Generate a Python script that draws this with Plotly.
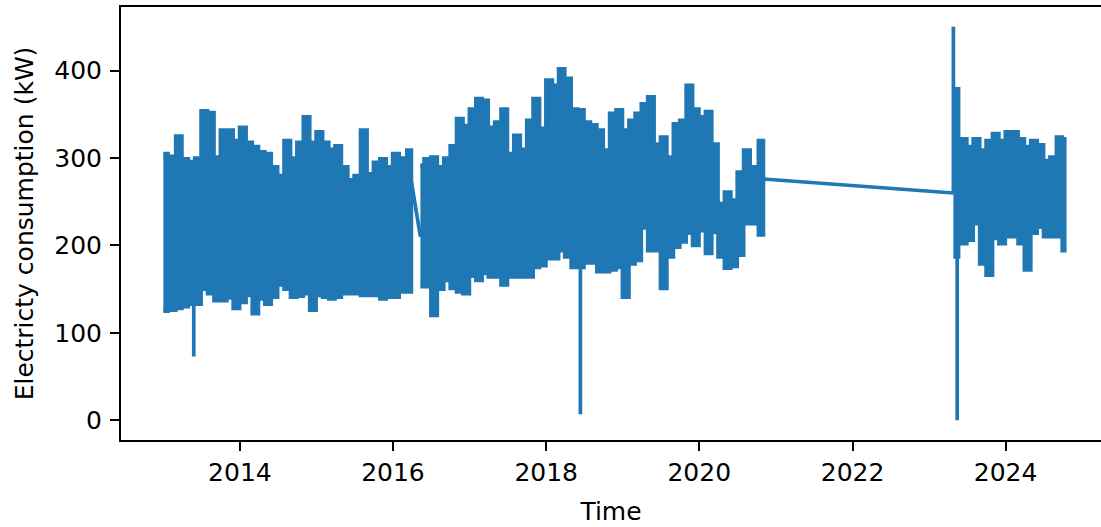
import pandas as pd
import plotly.graph_objects as go

# ---------------- data ----------------
# Monthly upper / lower envelope of the electricity series (kW)
seg_a_first_month = "2013-01-01"
seg_a_hi = [305, 302, 325, 299, 296, 300, 354, 352, 301, 332, 332, 320,
            335, 318, 313, 307, 305, 290, 280, 320, 300, 318, 347, 318,
            330, 318, 310, 314, 290, 275, 280, 332, 282, 295, 299, 290,
            305, 300, 309]
seg_a_lo = [125, 126, 128, 130, 133, 133, 150, 145, 137, 137, 140, 128,
            135, 143, 122, 139, 133, 141, 155, 150, 141, 142, 145, 126,
            143, 141, 139, 141, 145, 145, 145, 143, 143, 143, 139, 141,
            141, 147, 147]

seg_b_first_month = "2016-05-01"
seg_b_hi = [292, 299, 301, 290, 300, 314, 345, 337,
            356, 368, 366, 335, 341, 356, 305, 326, 310, 343, 368, 334,
            389, 383, 402, 391, 356, 355, 341, 338, 332, 309, 351, 355,
            332, 343, 351, 362, 370, 316, 324, 301, 339, 343, 383, 356,
            347, 353, 316, 248, 261, 252, 284, 309, 290, 320]
seg_b_lo = [153, 153, 120, 150, 160, 151, 147, 145,
            165, 160, 168, 164, 164, 155, 164, 164, 164, 164, 175, 177,
            185, 185, 194, 187, 175, 175, 180, 180, 170, 170, 172, 175,
            141, 179, 183, 220, 194, 194, 151, 187, 198, 204, 214, 200,
            217, 191, 215, 187, 174, 176, 189, 225, 225, 212]

seg_c_first_month = "2023-05-01"
seg_c_hi = [379, 322, 313, 322, 309, 320, 328, 320, 330, 330, 322, 313,
            320, 315, 297, 301, 324, 322]
seg_c_lo = [187, 202, 206, 225, 179, 166, 208, 202, 210, 210, 202, 172,
            214, 221, 210, 210, 210, 194]

# first / last timestamps of each continuous stretch of data
seg_starts = ["2013-01-01", "2016-05-11", "2023-04-27"]
seg_ends = ["2016-03-29", "2020-11-02", "2024-10-09"]

# values at the ends of the gaps (the series line bridges them)
gap_from_vals = [273, 276]
gap_to_vals = [210, 260]

# isolated single readings far outside the band
spike_dates = ["2013-05-26", "2018-06-13", "2023-05-15", "2023-04-27"]
spike_base = [200, 200, 220, 260]
spike_vals = [73, 7, 0, 450]

tick_years = ["2014", "2016", "2018", "2020", "2022", "2024"]
y_ticks = [0, 100, 200, 300, 400]

# ---------------- figure ----------------
COLOR = "#1f77b4"
LW = 3.7

fig = go.Figure()

segments = [
    (seg_a_first_month, seg_a_hi, seg_a_lo),
    (seg_b_first_month, seg_b_hi, seg_b_lo),
    (seg_c_first_month, seg_c_hi, seg_c_lo),
]
for i, (first, hi, lo) in enumerate(segments):
    dates = list(pd.date_range(first, periods=len(hi), freq="MS") + pd.Timedelta(days=14))
    dates[0] = pd.Timestamp(seg_starts[i])
    dates[-1] = pd.Timestamp(seg_ends[i])
    xs = dates + dates[::-1]
    ys = hi + lo[::-1]
    fig.add_trace(go.Scatter(
        x=xs, y=ys, mode="lines", fill="toself",
        fillcolor=COLOR, line=dict(color=COLOR, width=LW, shape="hvh"),
        hoverinfo="skip", showlegend=False))

# bridging lines over the data gaps
gx, gy = [], []
for k in range(2):
    gx += [pd.Timestamp(seg_ends[k]), pd.Timestamp(seg_starts[k + 1]), None]
    gy += [gap_from_vals[k], gap_to_vals[k], None]
fig.add_trace(go.Scatter(x=gx, y=gy, mode="lines",
                         line=dict(color=COLOR, width=LW),
                         showlegend=False, hoverinfo="skip"))

# spikes
sx, sy = [], []
for d, b, v in zip(spike_dates, spike_base, spike_vals):
    sx += [pd.Timestamp(d), pd.Timestamp(d), None]
    sy += [b, v, None]
fig.add_trace(go.Scatter(x=sx, y=sy, mode="lines",
                         line=dict(color=COLOR, width=LW),
                         showlegend=False, hoverinfo="skip"))

FONT = "DejaVu Sans"
FS = 25

fig.update_layout(
    width=1101, height=527,
    margin=dict(l=121, r=0, t=7, b=87),
    plot_bgcolor="white", paper_bgcolor="white",
    font=dict(family=FONT, size=FS, color="black"),
    showlegend=False,
)
fig.update_xaxes(
    type="date", automargin=False,
    range=["2012-06-13", "2025-03-31"],
    tickvals=[f"{y}-01-01" for y in tick_years],
    ticktext=tick_years,
    showgrid=False, zeroline=False,
    showline=True, linecolor="black", linewidth=2, mirror=True,
    ticks="outside", ticklen=9, tickwidth=2, tickcolor="black",
    tickfont=dict(family=FONT, size=FS, color="black"),
    title=dict(text="Time", font=dict(family=FONT, size=FS, color="black"), standoff=16),
)
fig.update_yaxes(
    automargin=False,
    range=[-22.5, 472.7],
    tickvals=y_ticks,
    showgrid=False, zeroline=False,
    showline=True, linecolor="black", linewidth=2, mirror=False,
    ticks="outside", ticklen=9, tickwidth=2, tickcolor="black",
    tickfont=dict(family=FONT, size=FS, color="black"),
    ticklabelstandoff=3,
    title=dict(text="Electricty consumption (kW)",
               font=dict(family=FONT, size=FS, color="black"), standoff=14),
)

fig.write_html("out.html",
               config={"displayModeBar": False, "staticPlot": True},
               post_script="document.body.style.margin='0';document.body.style.padding='0';")
